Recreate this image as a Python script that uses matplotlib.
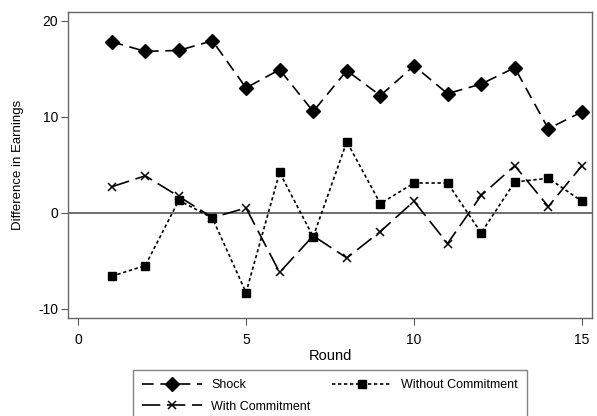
import matplotlib
matplotlib.use("Agg")
import matplotlib.pyplot as plt

plt.rcParams['font.family'] = ['Liberation Sans', 'DejaVu Sans']
plt.rcParams['axes.unicode_minus'] = False

rounds = list(range(1, 16))
shock = [17.8, 16.8, 16.9, 17.9, 13.0, 14.9, 10.55, 14.8, 12.2, 15.3, 12.4, 13.4, 15.1, 8.75, 10.5]
without_commitment = [-6.6, -5.5, 1.3, -0.55, -8.3, 4.2, -2.5, 7.4, 0.95, 3.1, 3.1, -2.1, 3.2, 3.6, 1.2]
with_commitment = [2.7, 3.85, 1.7, -0.5, 0.5, -6.2, -2.4, -4.7, -1.95, 1.2, -3.2, 1.8, 4.9, 0.65, 4.9]
xticks = [0, 5, 10, 15]
yticks = [-10, 0, 10, 20]

fig = plt.figure(figsize=(5.97, 4.16), dpi=100)
ax = fig.add_axes([0.1139, 0.2356, 0.8777, 0.7356])

ax.axhline(0, color='#555555', lw=1.2, zorder=1)

l_shock, = ax.plot(rounds, shock, color='black', lw=1.2, dashes=(7, 4),
                   marker='D', markersize=6.8, label='Shock')
l_without, = ax.plot(rounds, without_commitment, color='black', lw=1.2, dashes=(2, 1.6),
                     marker='s', markersize=6, label='Without Commitment')
l_with, = ax.plot(rounds, with_commitment, color='black', lw=1.2, dashes=(11, 4),
                  marker='x', markersize=6, markeredgewidth=1.1, label='With Commitment')

ax.set_xlim(-0.3, 15.3)
ax.set_ylim(-10.95, 20.9)
ax.set_xticks(xticks)
ax.set_yticks(yticks)
ax.tick_params(direction='out', length=5, width=0.8, color='#555555', labelsize=10)
ax.tick_params(axis='x', pad=6)
ax.tick_params(axis='y', pad=2)
for s in ax.spines.values():
    s.set_color('#666666')
    s.set_linewidth(1.0)

ax.set_xlabel('Round', fontsize=10.5, labelpad=1)
ax.set_ylabel('Difference in Earnings', fontsize=9.5, labelpad=10)

leg = fig.legend([l_shock, l_with, l_without],
                 ['Shock', 'With Commitment', 'Without Commitment'],
                 ncol=2, loc='upper left',
                 bbox_to_anchor=(133 / 597, 1 - 370 / 416, 394 / 597, 0.0),
                 mode='expand', fontsize=9, handlelength=4.8, handletextpad=0.7,
                 borderaxespad=0, borderpad=0.75, labelspacing=0.75,
                 frameon=True, fancybox=False, edgecolor='#666666')
leg.get_frame().set_linewidth(1.0)

fig.savefig('out.png', dpi=100)
